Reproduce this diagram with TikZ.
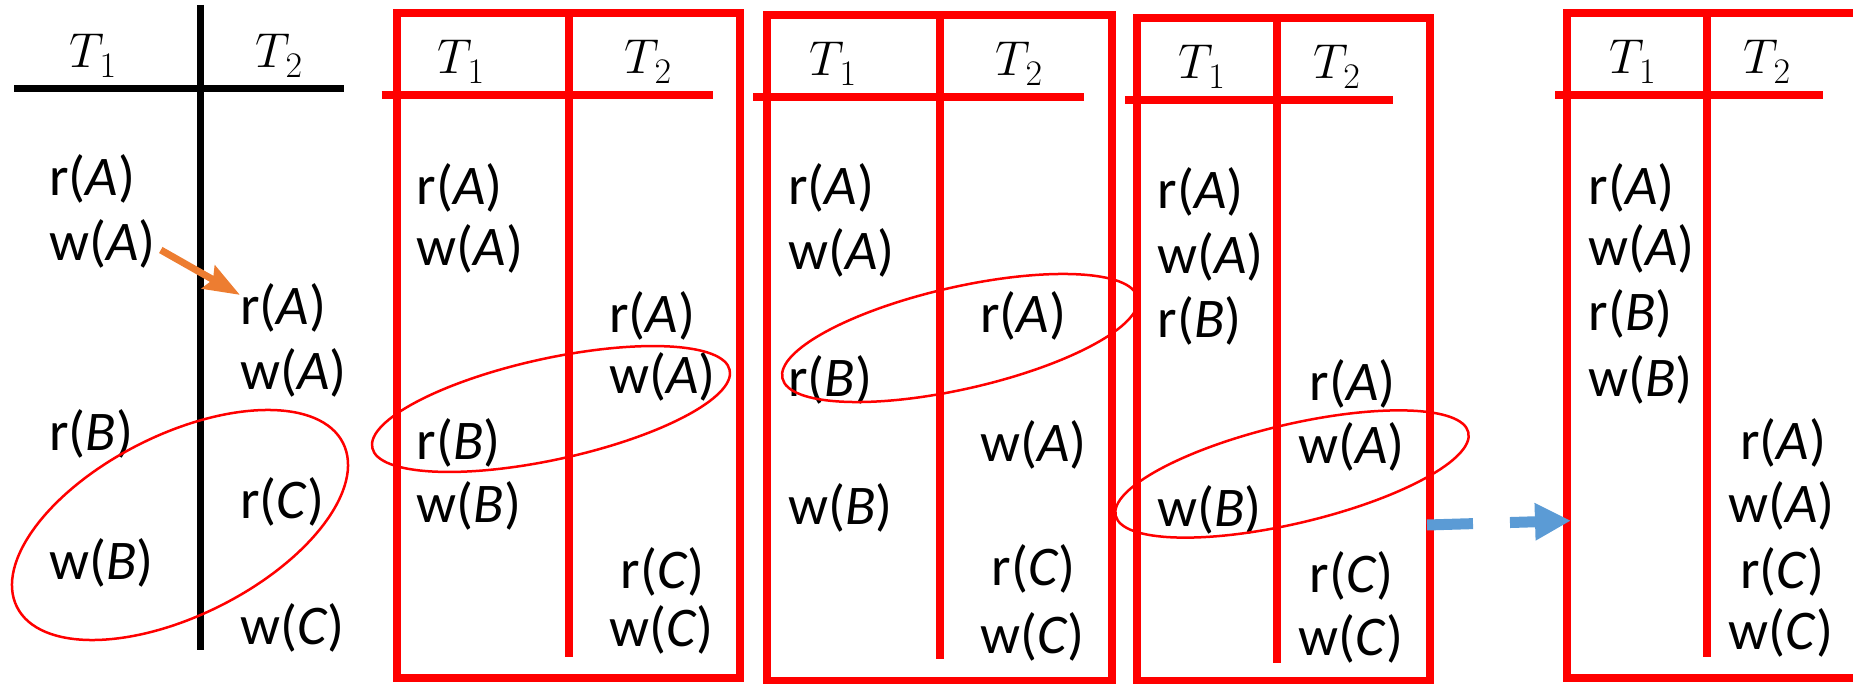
\RequirePackage{fix-cm}
\documentclass[tikz,border=0pt]{standalone}
\usepackage{fontspec}
\setmainfont{Carlito}
\usetikzlibrary{arrows.meta}
\definecolor{myred}{RGB}{255,0,0}
\definecolor{myorange}{HTML}{ED7D31}
\definecolor{myblue}{HTML}{5B9BD5}
\newcommand{\opr}[2]{#1(\textit{#2})}
\newcommand{\tlab}[1]{$T$\kern-5pt\raisebox{-10pt}{\fontsize{36}{36}\selectfont$#1$}}
\begin{document}
\begin{tikzpicture}[x=1pt,y=-1pt,
  op/.style={anchor=west,inner sep=0pt,font=\fontsize{56}{60}\selectfont},
  hdr/.style={inner sep=0pt,font=\fontsize{49}{52}\selectfont},
  blackline/.style={line width=7pt,black},
  redline/.style={line width=8pt,myred},
  loopline/.style={line width=2.5pt,myred},
  orangearrow/.style={line width=7pt,myorange,-{Stealth[length=36pt,width=26pt,inset=5pt]}},
  bluearrow/.style={line width=11pt,myblue,dash pattern=on 46pt off 37pt,-{Triangle[length=36pt,width=35pt]}}]
\useasboundingbox (0,0) rectangle (1853,684);
\clip (0,0) rectangle (1853,684);

% ---------- panel 1 ----------
\draw[blackline] (200.7,5) -- (200.7,650);
\draw[blackline] (14,88.6) -- (344,88.6);
\node[hdr] (p1t1) at (93,55.6) {\tlab{1}};
\node[hdr] (p1t2) at (279,55.6) {\tlab{2}};
\node[op] (p1r1) at (49,179) {\opr{r}{A}};
\node[op] (p1w1) at (49,244) {\opr{w}{A}};
\node[op] (p1r3) at (49,434) {\opr{r}{B}};
\node[op] (p1w3) at (49,563) {\opr{w}{B}};
\node[op] (p1r2) at (240,307.5) {\opr{r}{A}};
\node[op] (p1w2) at (240,373) {\opr{w}{A}};
\node[op] (p1r4) at (240,502) {\opr{r}{C}};
\node[op] (p1w4) at (240,628) {\opr{w}{C}};
\draw[loopline,rotate around={26.7:(180,525)}] (180,525) ellipse [x radius=182.5pt,y radius=90.3pt];
\draw[orangearrow] ([shift={(5,6)}]p1w1.east) -- ([shift={(0,12)}]p1r2.north west);

% ---------- panel 2 ----------
\draw[redline] (396.7,13) rectangle (740,678);
\draw[redline] (381.7,95) -- (712.7,95);
\draw[redline] (569,13) -- (569,656.5);
\node[hdr] (p2t1) at (461,62) {\tlab{1}};
\node[hdr] (p2t2) at (648,62) {\tlab{2}};
\node[op] (p2r1) at (416.7,187.6) {\opr{r}{A}};
\node[op] (p2w1) at (416.7,249) {\opr{w}{A}};
\node[op] (p2r3) at (416.7,443) {\opr{r}{B}};
\node[op] (p2w3) at (416.7,506) {\opr{w}{B}};
\node[op] (p2r2) at (609,316) {\opr{r}{A}};
\node[op] (p2w2) at (609,377) {\opr{w}{A}};
\node[op] (p2r4) at (620.7,571.5) {\opr{r}{C}};
\node[op] (p2w4) at (609,630) {\opr{w}{C}};
\draw[loopline,rotate around={12.3:(551,409)}] (551,409) ellipse [x radius=182.9pt,y radius=50.6pt];

% ---------- panel 3 ----------
\draw[redline] (767.3,15.3) rectangle (1111.7,680.5);
\draw[redline] (753,97) -- (1084,97);
\draw[redline] (940,15.3) -- (940,659);
\node[hdr] (p3t1) at (833,64) {\tlab{1}};
\node[hdr] (p3t2) at (1019,64) {\tlab{2}};
\node[op] (p3r1) at (788,188) {\opr{r}{A}};
\node[op] (p3w1) at (788,253) {\opr{w}{A}};
\node[op] (p3r3) at (788,380) {\opr{r}{B}};
\node[op] (p3w3) at (788,508) {\opr{w}{B}};
\node[op] (p3r2) at (980,316) {\opr{r}{A}};
\node[op] (p3w2) at (980,445) {\opr{w}{A}};
\node[op] (p3r4) at (991.7,569) {\opr{r}{C}};
\node[op] (p3w4) at (980,637) {\opr{w}{C}};
\draw[loopline,rotate around={12.8:(960,338)}] (960,338) ellipse [x radius=182.1pt,y radius=51pt];

% ---------- panel 4 ----------
\draw[redline] (1136.7,18.3) rectangle (1430,680.5);
\draw[redline] (1125,100.4) -- (1393,100.4);
\draw[redline] (1276.7,18.3) -- (1276.7,663);
\node[hdr] (p4t1) at (1201.7,66.6) {\tlab{1}};
\node[hdr] (p4t2) at (1336.7,66.6) {\tlab{2}};
\node[op] (p4r1) at (1157.3,192) {\opr{r}{A}};
\node[op] (p4w1) at (1157.3,257.4) {\opr{w}{A}};
\node[op] (p4r3) at (1157.3,320.6) {\opr{r}{B}};
\node[op] (p4w3) at (1157.3,510.4) {\opr{w}{B}};
\node[op] (p4r2) at (1309.3,384) {\opr{r}{A}};
\node[op] (p4w2) at (1298.3,447) {\opr{w}{A}};
\node[op] (p4r4) at (1309.3,576) {\opr{r}{C}};
\node[op] (p4w4) at (1298.3,639) {\opr{w}{C}};
\draw[loopline,rotate around={13.3:(1292,474)}] (1292,474) ellipse [x radius=181.2pt,y radius=49.4pt];

% ---------- panel 5 ----------
\draw[redline] (1566.7,13) rectangle (1900,678);
\draw[redline] (1555,95) -- (1823.3,95);
\draw[redline] (1706.7,13) -- (1706.7,656.5);
\node[hdr] (p5t1) at (1632.5,61.7) {\tlab{1}};
\node[hdr] (p5t2) at (1767,61.7) {\tlab{2}};
\node[op] (p5r1) at (1588.3,187.6) {\opr{r}{A}};
\node[op] (p5w1) at (1588.3,248.7) {\opr{w}{A}};
\node[op] (p5r3) at (1588.3,314) {\opr{r}{B}};
\node[op] (p5w3) at (1588.3,379.5) {\opr{w}{B}};
\node[op] (p5r2) at (1740,443) {\opr{r}{A}};
\node[op] (p5w2) at (1728.3,506) {\opr{w}{A}};
\node[op] (p5r4) at (1740,571.5) {\opr{r}{C}};
\node[op] (p5w4) at (1728.3,632.5) {\opr{w}{C}};

% ---------- blue arrow ----------
\coordinate (bstart) at (1427,525);
\coordinate (bend) at (1571,520.7);
\draw[bluearrow] (bstart) -- (bend);
\end{tikzpicture}
\end{document}
